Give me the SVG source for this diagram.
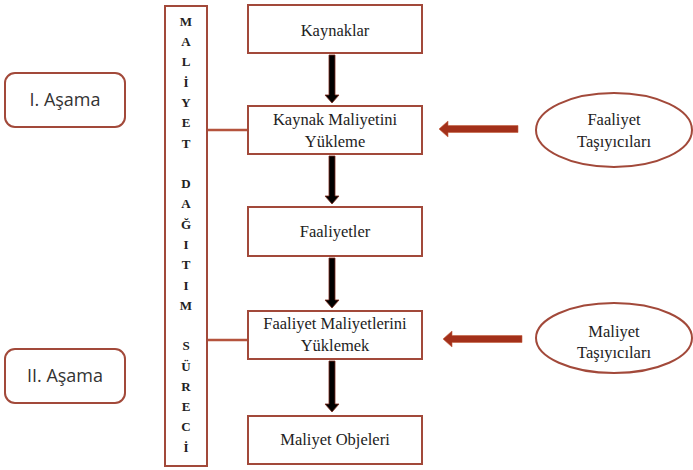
<svg xmlns="http://www.w3.org/2000/svg" width="693" height="470" viewBox="0 0 693 470">
<style>
.box{fill:#fff;stroke:#a2493a;stroke-width:2}
.t{font-family:"Liberation Serif","DejaVu Serif",serif;font-size:16.5px;fill:#222;text-anchor:middle}
.v{font-family:"Liberation Serif","DejaVu Serif",serif;font-size:13px;font-weight:bold;fill:#222;text-anchor:middle}
.s{font-family:"Open Sans","DejaVu Sans",sans-serif;font-size:18px;fill:#333;text-anchor:middle}
.link{stroke:#b5533d;stroke-width:2.5;fill:none}
.down{fill:#000;stroke:#7a2a1c;stroke-width:0.8}
.left{fill:#a3301a;stroke:#c4603f;stroke-width:0.6}
</style>
<rect width="693" height="470" fill="#fff"/>
<g id="connectors">
<line class="link" x1="207" y1="130" x2="248" y2="130"/>
<line class="link" x1="207" y1="340" x2="248" y2="340"/>
<path class="down" d="M329,55 H335 V95 H339 L332,103 L325,95 H329 Z"/>
<path class="down" d="M329,156 H335 V196 H339 L332,204 L325,196 H329 Z"/>
<path class="down" d="M329,258 H335 V300 H339 L332,308 L325,300 H329 Z"/>
<path class="down" d="M329,361 H335 V404 H339 L332,412 L325,404 H329 Z"/>
<path class="left" d="M518,125.5 V132.5 H448 V137 L439,129 L448,121 V125.5 Z"/>
<path class="left" d="M522,335.5 V342.5 H452 V347 L443,339 L452,331 V335.5 Z"/>
</g>
<g id="maliyet-dagitim-sureci">
<rect class="box" x="165" y="6" width="42" height="460"/>
<text class="v" x="186" y="25.5">M</text>
<text class="v" x="186" y="46">A</text>
<text class="v" x="186" y="66">L</text>
<text class="v" x="186" y="86.5">İ</text>
<text class="v" x="186" y="107">Y</text>
<text class="v" x="186" y="127">E</text>
<text class="v" x="186" y="147.5">T</text>
<text class="v" x="186" y="187.5">D</text>
<text class="v" x="186" y="208">A</text>
<text class="v" x="186" y="228.5">Ğ</text>
<text class="v" x="186" y="249">I</text>
<text class="v" x="186" y="269">T</text>
<text class="v" x="186" y="289.5">I</text>
<text class="v" x="186" y="309.5">M</text>
<text class="v" x="186" y="350">S</text>
<text class="v" x="186" y="370.5">Ü</text>
<text class="v" x="186" y="390.5">R</text>
<text class="v" x="186" y="411">E</text>
<text class="v" x="186" y="431">C</text>
<text class="v" x="186" y="451.5">İ</text>
</g>
<g id="asama1">
<rect class="box" x="5" y="73" width="120" height="54" rx="10"/>
<text class="s" x="65" y="106">I. Aşama</text>
</g>
<g id="asama2">
<rect class="box" x="5" y="349" width="120" height="54" rx="10"/>
<text class="s" x="65" y="382">II. Aşama</text>
</g>
<g id="kaynaklar">
<rect class="box" x="248" y="5" width="174" height="48"/>
<text class="t" x="335" y="36">Kaynaklar</text>
</g>
<g id="kaynak-maliyetini-yukleme">
<rect class="box" x="248" y="106" width="174" height="48"/>
<text class="t" x="335" y="125">Kaynak Maliyetini</text>
<text class="t" x="335" y="147">Yükleme</text>
</g>
<g id="faaliyetler">
<rect class="box" x="248" y="207" width="174" height="49"/>
<text class="t" x="335" y="237">Faaliyetler</text>
</g>
<g id="faaliyet-maliyetlerini-yuklemek">
<rect class="box" x="248" y="311" width="174" height="48"/>
<text class="t" x="335" y="329">Faaliyet Maliyetlerini</text>
<text class="t" x="335" y="351">Yüklemek</text>
</g>
<g id="maliyet-objeleri">
<rect class="box" x="248" y="416" width="174" height="48"/>
<text class="t" x="335" y="445">Maliyet Objeleri</text>
</g>
<g id="faaliyet-tasiyicilari">
<ellipse class="box" cx="614" cy="130" rx="78" ry="37"/>
<text class="t" x="614" y="125">Faaliyet</text>
<text class="t" x="614" y="147">Taşıyıcıları</text>
</g>
<g id="maliyet-tasiyicilari">
<ellipse class="box" cx="614" cy="338" rx="78" ry="35"/>
<text class="t" x="614" y="337">Maliyet</text>
<text class="t" x="614" y="358">Taşıyıcıları</text>
</g>
</svg>
